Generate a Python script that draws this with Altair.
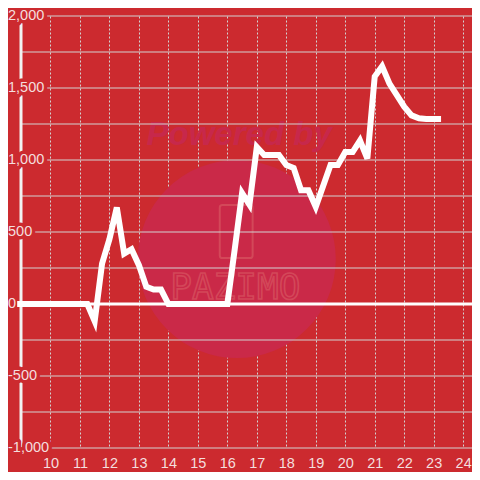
import altair as alt
import pandas as pd

# ---- data ----
hours = [8.87, 11.25, 11.5, 11.75, 12.0, 12.25, 12.5, 12.75, 13.0, 13.25, 13.5, 13.75, 14.0,
         16.0, 16.25, 16.5, 16.75, 17.0, 17.25, 17.5, 17.75, 18.0, 18.25, 18.5, 18.75,
         19.0, 19.25, 19.5, 19.75, 20.0, 20.25, 20.5, 20.75, 21.0, 21.25, 21.5, 21.75,
         22.0, 22.25, 22.5, 22.75, 23.0, 23.25]
values = [0, 0, -120, 280, 450, 670, 350, 380, 270, 120, 100, 100, 0,
          0, 380, 770, 690, 1090, 1035, 1035, 1035, 965, 945, 790, 790,
          675, 820, 965, 965, 1055, 1055, 1135, 1010, 1580, 1650, 1530, 1450,
          1370, 1310, 1290, 1285, 1285, 1285]

x_ticks = [10, 11, 12, 13, 14, 15, 16, 17, 18, 19, 20, 21, 22, 23, 24]
y_major = [2000, 1500, 1000, 500, 0, -500, -1000]
y_major_text = ["2,000", "1,500", "1,000", "500", "0", "-500", "-1,000"]
y_minor = [1750, 1250, 750, 250, -250, -750]

# watermark anchors (data space)
wm_circle = {"hour": 16.32, "value": 312}
wm_powered = {"hour": 16.4, "value": 1174, "text": "Powered by"}
wm_logo = {"hour": 16.3, "value": 503}
wm_brand = {"hour": 16.27, "value": 111, "text": "PAZIMO"}

BG = "#CC2A2F"
GRID = "#d2d2d2"
LABEL = "#f4dede"
FONT = "Liberation Sans"
W, H = 451, 432

xscale = alt.Scale(domain=[9, 24.3], nice=False, zero=False)
yscale = alt.Scale(domain=[-1000, 2000], nice=False, zero=False)
xaxis = alt.Axis(values=x_ticks, title=None, grid=True, gridDash=[2, 2], gridColor=GRID,
                 gridWidth=1, ticks=False, domain=False, labelFontSize=14.5,
                 labelFont=FONT, labelColor=LABEL, labelPadding=8, format="d",
                 labelOverlap=False)

line_df = pd.DataFrame({"hour": hours, "value": values})
major_df = pd.DataFrame({"value": y_major, "text": y_major_text})
minor_df = pd.DataFrame({"value": y_minor})

X = lambda: alt.X("hour:Q", scale=xscale, axis=xaxis)
Y = lambda: alt.Y("value:Q", scale=yscale, axis=None)

# watermark
circle = alt.Chart(pd.DataFrame([wm_circle])).mark_point(
    shape="circle", filled=True, size=39204, color="#CA2948", opacity=1
).encode(x=X(), y=Y())

powered = alt.Chart(pd.DataFrame([wm_powered])).mark_text(
    font=FONT, fontSize=33, fontWeight="bold", fontStyle="italic", color="#C7284B"
).encode(x=X(), y=Y(), text="text:N")

logo = alt.Chart(pd.DataFrame([wm_logo])).mark_point(
    shape="M-0.62,-0.9Q-0.62,-1,-0.52,-1H0.52Q0.62,-1,0.62,-0.9V0.9Q0.62,1,0.52,1H-0.52Q-0.62,1,-0.62,0.9Z",
    filled=False, size=2809, stroke="#D6505E", strokeWidth=2, opacity=0.8
).encode(x=X(), y=Y())

brand = alt.Chart(pd.DataFrame([wm_brand])).mark_text(
    font="DejaVu Sans Mono", fontSize=36, fillOpacity=0, stroke="#D6505E",
    strokeWidth=1.6, strokeOpacity=0.8
).encode(x=X(), y=Y(), text="text:N")

# vertical dashed grid + x axis
xgrid = alt.Chart(pd.DataFrame({"hour": x_ticks})).mark_point(opacity=0).encode(
    x=X(), y=alt.value(0))

# horizontal grid lines
major_rules = alt.Chart(major_df).mark_rule(color=GRID, strokeWidth=1).encode(
    y=Y(), x=alt.value(-13), x2=alt.value(W))
minor_rules = alt.Chart(minor_df).mark_rule(color=GRID, strokeWidth=1).encode(
    y=Y(), x=alt.value(0), x2=alt.value(W))

# y axis line
axis_line = alt.Chart(pd.DataFrame({"value": [2000], "value2": [-1000]})).mark_rule(
    color="#f2f2f2", strokeWidth=3
).encode(y=Y(), y2="value2:Q", x=alt.value(0))

# label masks + labels
mask = alt.Chart(major_df).mark_text(
    align="left", baseline="middle", font=FONT, fontSize=14.5, fill=BG,
    stroke=BG, strokeWidth=7, strokeJoin="round"
).encode(y=Y(), x=alt.value(-13), text="text:N")
labels = alt.Chart(major_df).mark_text(
    align="left", baseline="middle", font=FONT, fontSize=14.5, fill=LABEL
).encode(y=Y(), x=alt.value(-13), text="text:N")

# zero line
zero = alt.Chart(pd.DataFrame({"value": [0]})).mark_rule(color="#ffffff", strokeWidth=3).encode(
    y=Y(), x=alt.value(0), x2=alt.value(W))

line = alt.Chart(line_df).mark_line(color="#ffffff", strokeWidth=6, strokeJoin="miter",
                                    strokeCap="butt").encode(x=X(), y=Y())

chart = alt.layer(
    circle, powered, logo, brand, xgrid, major_rules, minor_rules, axis_line,
    mask, labels, zero, line
).properties(
    width=W, height=H,
    autosize=alt.AutoSizeParams(type="none"),
    padding={"left": 13, "top": 8, "right": 0, "bottom": 24},
    background=BG,
).configure_view(stroke=None)

chart.save("out.html", embed_options={"renderer": "svg", "actions": False})
